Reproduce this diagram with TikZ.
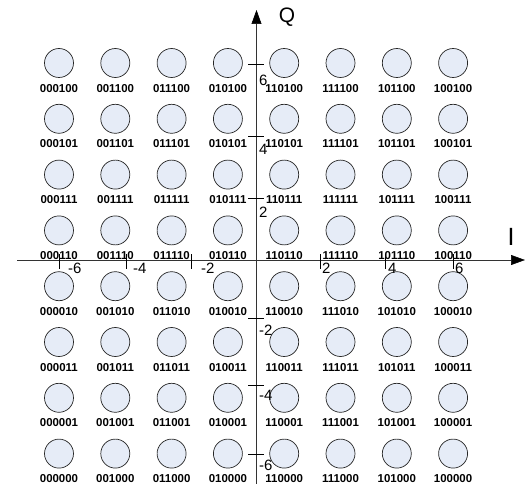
\documentclass[tikz,border=0pt]{standalone}
\usepackage{fontspec}
\setmainfont{Liberation Sans}
\usetikzlibrary{arrows.meta,positioning}
\definecolor{pointfill}{HTML}{E6ECF7}

\begin{document}
\begin{tikzpicture}[
  x=1bp, y=-1bp,
  point/.style={circle, draw=black!85, fill=pointfill, line width=0.7bp, minimum size=29bp, inner sep=0pt},
  bits/.style={font=\fontsize{11.5}{12}\selectfont\bfseries, inner sep=0pt},
  ticklab/.style={font=\fontsize{15}{15}\selectfont, inner sep=0pt},
  axis/.style={-{Triangle[length=14bp,width=10bp,color=black]}, line width=0.6bp, draw=black!80},
  tickmark/.style={line width=0.8bp}
]
\useasboundingbox (0,0) rectangle (526,484);

% 64 points, Gray coded: I bits per column, Q bits per row
\foreach \ib [count=\i from 0] in {000,001,011,010,110,111,101,100}{
  \foreach \qb [count=\j from 0] in {100,101,111,110,010,011,001,000}{
    \node[point] (p\i\j) at ({59+56.3*\i},{63+55.8*\j}) {};
    \node[bits, below=6bp of p\i\j] (b\i\j) {\ib\qb};
  }
}

\coordinate (xfrom) at (17,260);
\coordinate (xto) at (525,260);
\coordinate (yfrom) at (256.5,484);
\coordinate (yto) at (256.5,10);
\draw[axis] (xfrom) -- (xto);
\draw[axis] (yfrom) -- (yto);

\node[font=\fontsize{21}{21}\selectfont, inner sep=0pt] (qlab) at (287,17) {Q};
\node[font=\fontsize{25}{25}\selectfont, inner sep=0pt] (ilab) at (511,237) {I};

% ticks on I axis
\foreach \tx/\lx/\t in {59/68/-6, 126.7/133/-4, 191.7/201/-2, 320.3/322/2, 385.7/388/4, 453/455/6}{
  \draw[tickmark] (\tx,254) -- (\tx,269);
  \node[ticklab, anchor=west] (xt\t) at (\lx,268) {\t};
}
% ticks on Q axis
\foreach \ty/\ly/\t in {64.3/80/6, 136.7/149/4, 198.3/212/2, 318.7/330/-2, 385.3/395/-4, 454.3/465/-6}{
  \draw[tickmark] (248,\ty) -- (264,\ty);
  \node[ticklab, anchor=west] (yt\t) at (259,\ly) {\t};
}
\end{tikzpicture}
\end{document}
